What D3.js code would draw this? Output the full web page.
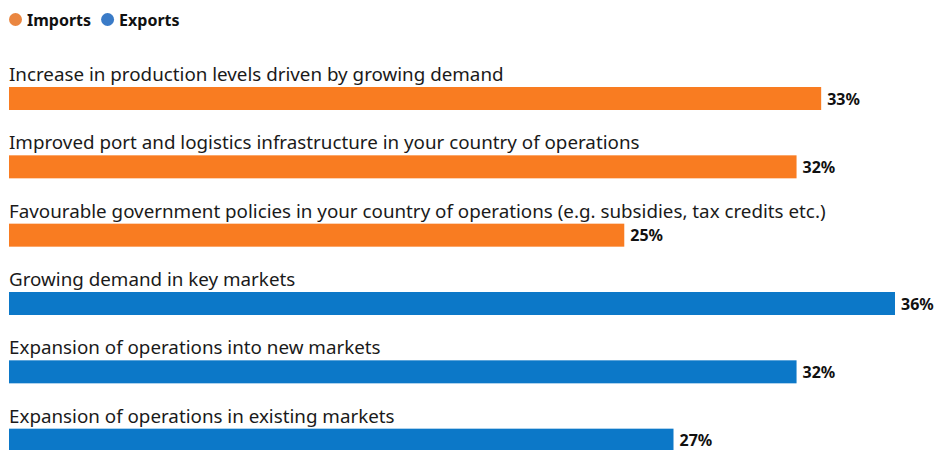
<!DOCTYPE html>
<html>
<head>
<meta charset="utf-8">
<script src="https://cdn.jsdelivr.net/npm/d3@7"></script>
<style>
  body { margin: 0; background: #fff; }
  svg { display: block; font-family: "Noto Sans", sans-serif; }
</style>
</head>
<body>
<div id="chart"></div>
<script>
    "use strict";

    // Данные графика
    const categories = [
        "Increase in production levels driven by growing demand",
        "Improved port and logistics infrastructure in your country of operations",
        "Favourable government policies in your country of operations (e.g. subsidies, tax credits etc.)",
        "Growing demand in key markets",
        "Expansion of operations into new markets",
        "Expansion of operations in existing markets"
    ];
    const values = [33, 32, 25, 36, 32, 27];
    const groups = ["Imports", "Imports", "Imports", "Exports", "Exports", "Exports"];
    const legendKeys = ["Imports", "Exports"];

    const width = 939;
    const height = 450;

    const barColor = d3.scaleOrdinal().domain(legendKeys).range(["#f97c21", "#0c78c8"]);
    const dotColor = d3.scaleOrdinal().domain(legendKeys).range(["#ea8640", "#3a7bc7"]);

    const x = d3.scaleLinear().domain([0, 36]).range([9, 895]);
    const y = d3.scaleBand().domain(categories).range([63, 473]).paddingInner(0).paddingOuter(0);

    const svg = d3.select("#chart").append("svg")
        .attr("width", width)
        .attr("height", height);

    // Легенда
    let legend = svg.append("g");
    let lx = 9;
    legendKeys.forEach(key => {
        let item = legend.append("g").attr("transform", `translate(${lx},0)`);
        item.append("circle")
            .attr("cx", 6.5)
            .attr("cy", 19.5)
            .attr("r", 6.5)
            .style("fill", dotColor(key));
        let t = item.append("text")
            .attr("x", 18)
            .attr("y", 26)
            .style("font-size", "16px")
            .style("font-weight", "bold")
            .style("fill", "#111")
            .text(key);
        lx += 18 + t.node().getComputedTextLength() + 10;
    });

    const barH = 23;

    let rows = svg.selectAll("g.row")
        .data(categories)
        .enter().append("g")
        .attr("class", "row");

    rows.append("text")
        .attr("x", 9)
        .attr("y", d => y(d) + 18)
        .style("font-size", "18.8px")
        .style("fill", "#1a1a1a")
        .text(d => d);

    rows.append("rect")
        .attr("x", x(0))
        .attr("y", d => y(d) + 24)
        .attr("width", (d, i) => x(values[i]) - x(0))
        .attr("height", barH)
        .style("fill", (d, i) => barColor(groups[i]));

    rows.append("text")
        .attr("x", (d, i) => x(values[i]) + 6)
        .attr("y", d => y(d) + 24 + 17.5)
        .style("font-size", "16px")
        .style("font-weight", "bold")
        .style("fill", "#111")
        .text((d, i) => values[i] + "%");
</script>
</body>
</html>
